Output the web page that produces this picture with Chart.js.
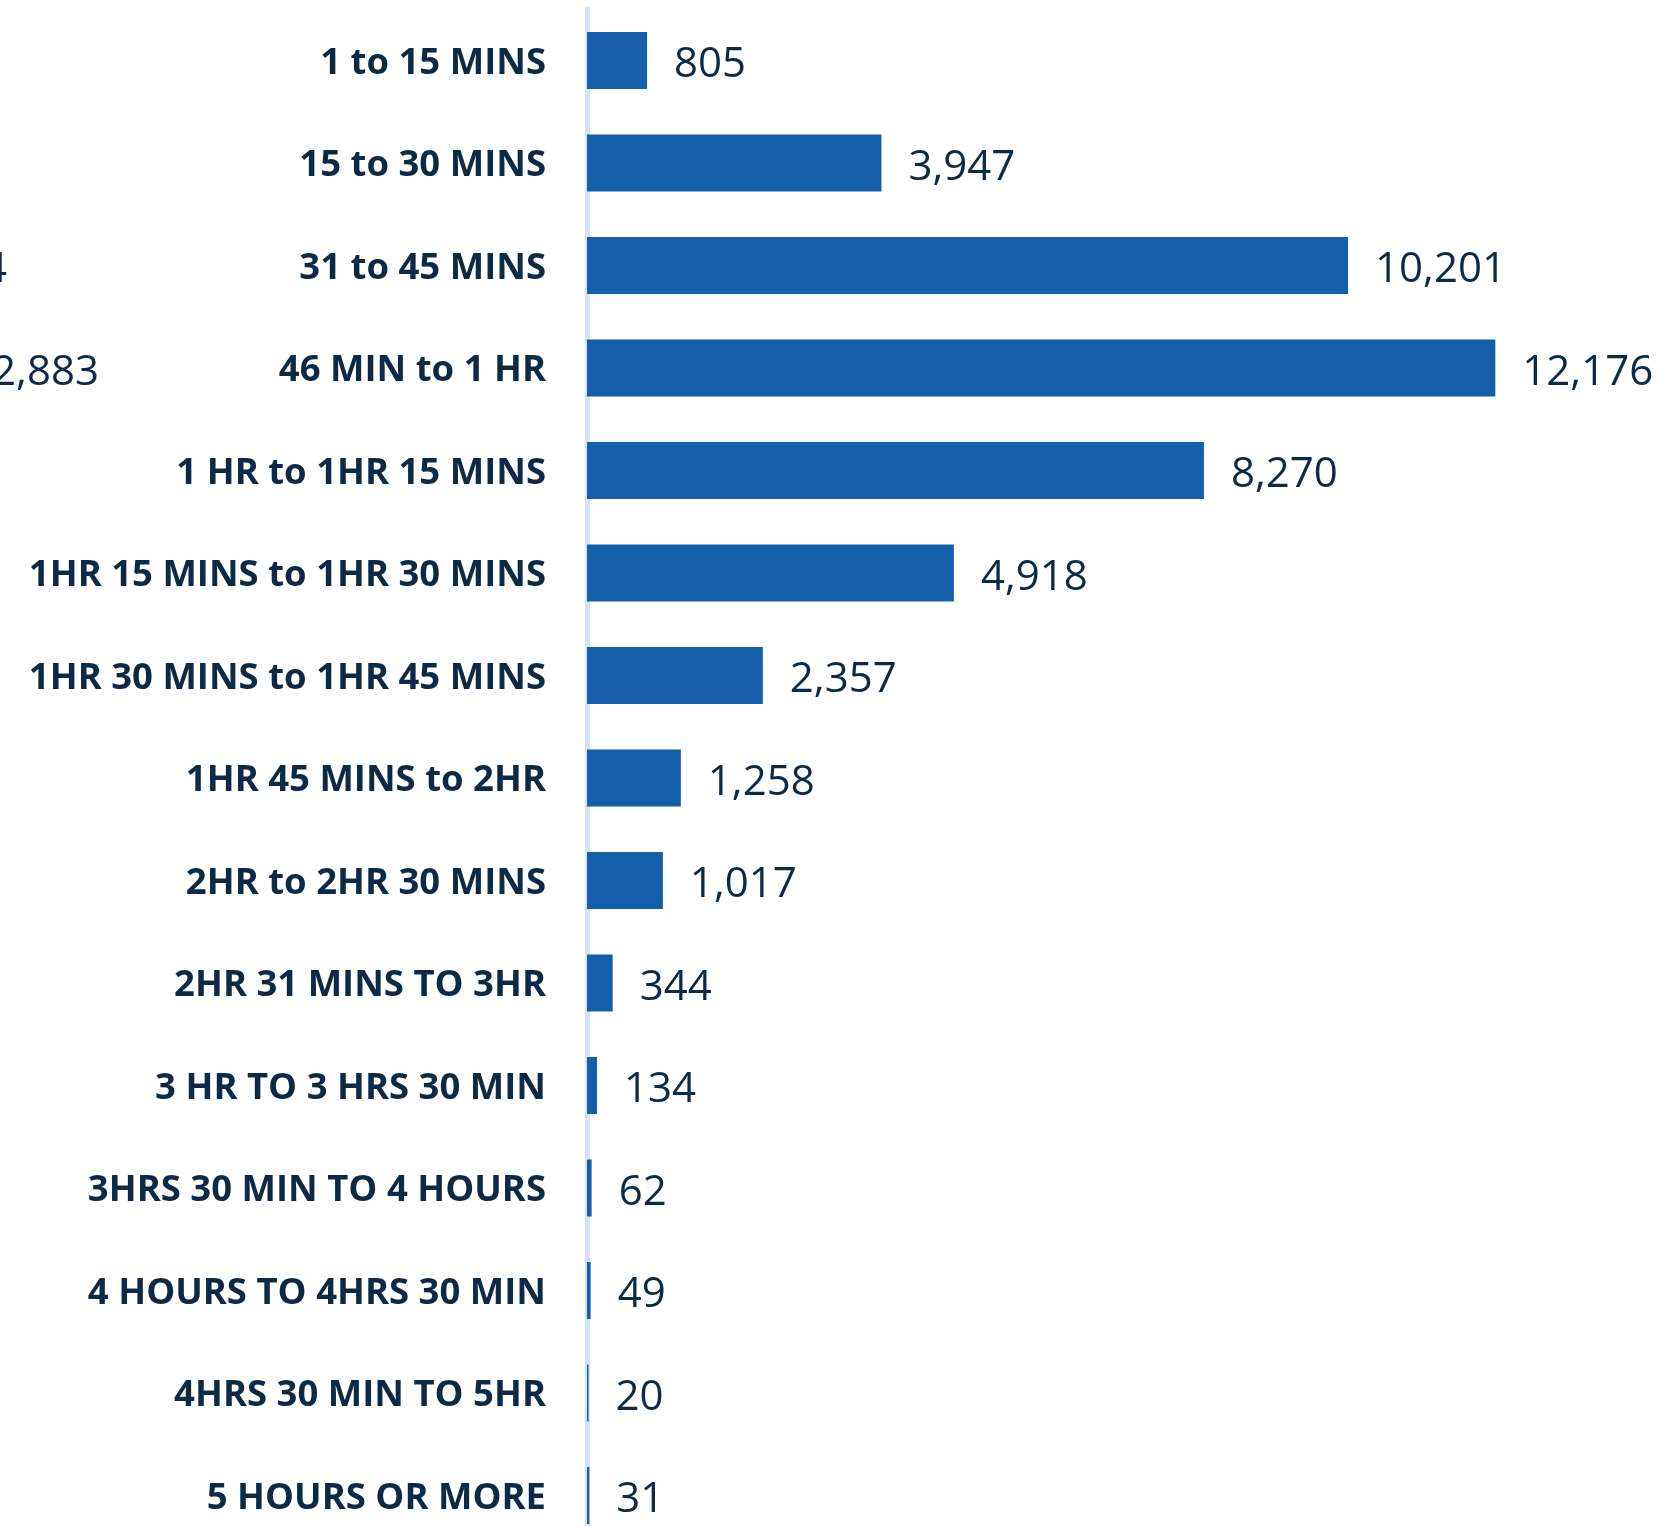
<!DOCTYPE html>
<html>
<head>
<meta charset="utf-8">
<title>Journey duration</title>
<script src="https://cdn.jsdelivr.net/npm/chart.js@4.4.1/dist/chart.umd.min.js"></script>
<style>
  html, body { margin: 0; padding: 0; background: #fff; }
  .frame { width: 1678px; height: 1526px; overflow: hidden; }
  .chart-box { position: relative; width: 1678px; height: 1550px; }
</style>
</head>
<body>
<div class="frame">
  <div class="chart-box"><canvas id="chartDuration"></canvas></div>
</div>
<script>
// ---- Data ----
const DURATIONS = [
  '1 to 15 MINS',
  '15 to 30 MINS',
  '31 to 45 MINS',
  '46 MIN to 1 HR',
  '1 HR to 1HR 15 MINS',
  '1HR 15 MINS to 1HR 30 MINS',
  '1HR 30 MINS to 1HR 45 MINS',
  '1HR 45 MINS to 2HR',
  '2HR to 2HR 30 MINS',
  '2HR 31 MINS TO 3HR',
  '3 HR TO 3 HRS 30 MIN',
  '3HRS 30 MIN TO 4 HOURS',
  '4 HOURS TO 4HRS 30 MIN',
  '4HRS 30 MIN TO 5HR',
  '5 HOURS OR MORE'
];
const JOURNEYS = [805, 3947, 10201, 12176, 8270, 4918, 2357, 1258, 1017, 344, 134, 62, 49, 20, 31];

// value labels of the neighbouring panel that run in from the left
const SIDE_TEXT = ['4', '2,883'];
const SIDE_ROWS = [2, 3];

const BAR_COLOR  = '#155EA9';
const TEXT_COLOR = '#0C2A45';
const AXIS_COLOR = '#D3E2F4';

const VALUE_FONT = '42px "Open Sans"';
const VALUE_DY   = 16.5;   // baseline offset from the bar centre

// ---- Plugins ----
const valueLabels = {
  id: 'valueLabels',
  afterDatasetsDraw(chart) {
    const { ctx } = chart;
    const meta = chart.getDatasetMeta(0);
    ctx.save();
    ctx.font = VALUE_FONT;
    ctx.fillStyle = TEXT_COLOR;
    ctx.textAlign = 'left';
    ctx.textBaseline = 'alphabetic';
    meta.data.forEach((bar, i) => {
      ctx.fillText(JOURNEYS[i].toLocaleString('en-US'), bar.x + 27, bar.y + VALUE_DY);
    });
    ctx.restore();
  }
};

const sideLabels = {
  id: 'sideLabels',
  afterDraw(chart, args, opts) {
    const { ctx } = chart;
    const y = chart.scales.y;
    ctx.save();
    ctx.font = VALUE_FONT;
    ctx.fillStyle = TEXT_COLOR;
    ctx.textAlign = 'right';
    ctx.textBaseline = 'alphabetic';
    SIDE_TEXT.forEach((txt, i) => {
      ctx.fillText(txt, opts.right[i], y.getPixelForValue(SIDE_ROWS[i]) + VALUE_DY);
    });
    ctx.restore();
  }
};

// ---- Chart ----
const canvas = document.getElementById('chartDuration');

new Chart(canvas, {
  type: 'bar',
  data: {
    labels: DURATIONS,
    datasets: [{
      data: JOURNEYS,
      backgroundColor: BAR_COLOR,
      borderWidth: 0,
      categoryPercentage: 1,
      barPercentage: 0.556,
    }]
  },
  options: {
    indexAxis: 'y',
    responsive: true,
    maintainAspectRatio: false,
    devicePixelRatio: 1,
    animation: false,
    layout: { padding: { top: 9.25, right: 46.6, bottom: 3.25, left: 0 } },
    plugins: {
      legend: { display: false },
      tooltip: { enabled: false },
      sideLabels: { right: [7, 99] }
    },
    scales: {
      x: {
        display: false,
        min: 0,
        max: 14000,
      },
      y: {
        grid: { display: false, drawTicks: false },
        border: { display: true, color: AXIS_COLOR, width: 5 },
        ticks: {
          color: TEXT_COLOR,
          padding: 41,
          labelOffset: 3,
          font: { family: 'Open Sans', size: 36.5, weight: 'bold' }
        },
        // fixed label column; no extra room above/below the first and last rows
        afterFit: scale => {
          scale.width = 587;
          scale.paddingTop = 0;
          scale.paddingBottom = 0;
        }
      }
    }
  },
  plugins: [valueLabels, sideLabels]
});
</script>
</body>
</html>
